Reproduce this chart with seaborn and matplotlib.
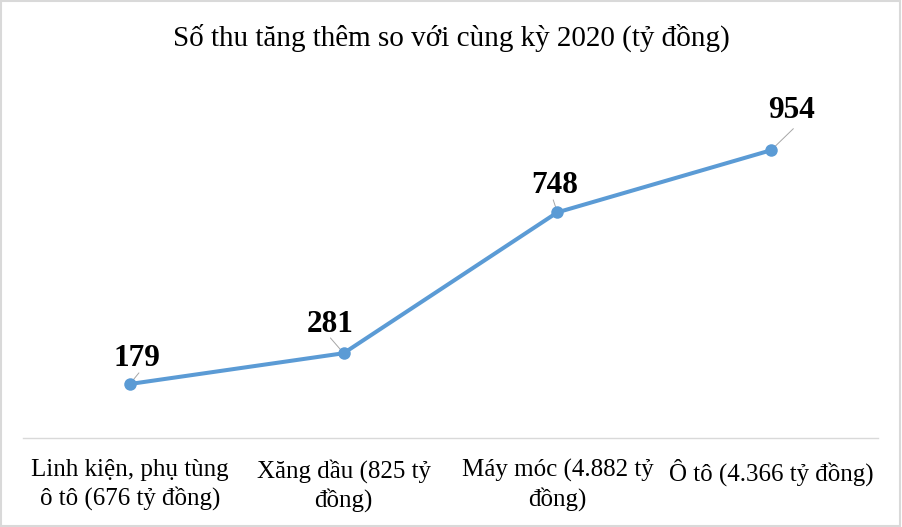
import numpy as np
import pandas as pd
import seaborn as sns
import matplotlib.pyplot as plt
from matplotlib.patches import Rectangle

categories = ["Linh kiện, phụ tùng\nô tô (676 tỷ đồng)", "Xăng dầu (825 tỷ\nđồng)",
              "Máy móc (4.882 tỷ\nđồng)", "Ô tô (4.366 tỷ đồng)"]
values = [179, 281, 748, 954]
title = "Số thu tăng thêm so với cùng kỳ 2020 (tỷ đồng)"

df = pd.DataFrame({"cat": categories, "val": values})

sns.set_style("white")
plt.rcParams['font.family'] = ['Liberation Serif', 'DejaVu Serif']
plt.rcParams['text.color'] = 'black'
plt.rcParams['xtick.color'] = 'black'

fig = plt.figure(figsize=(9.02, 5.27), dpi=100)
ax = fig.add_axes([23/902, 1-438/527, 855/902, 362/527])

sns.lineplot(data=df, x="cat", y="val", ax=ax, color="#5B9BD5", linewidth=2.9,
             marker="o", markersize=9, markeredgewidth=0, sort=False, zorder=3)

ax.set_xlim(-0.5, 3.5)
ax.set_ylim(0, 1200)
ax.set_yticks([])
ax.set_xlabel("")
ax.set_ylabel("")
for s in ["top", "right", "left"]:
    ax.spines[s].set_visible(False)
ax.spines["bottom"].set_color("#D9D9D9")
ax.spines["bottom"].set_linewidth(1)
ax.tick_params(axis="x", length=0, pad=15, labelsize=18, labelcolor="black")
for lab in ax.get_xticklabels():
    lab.set_linespacing(1.3)

# data labels and leader lines (offsets in points from each point)
label_off = [(5, 18.5), (-10, 20.5), (-2, 19), (15, 28.5)]
leader_off = [(6.5, 8), (-9.5, 11), (-3, 9), (16, 15.5)]
for i, v in enumerate(values):
    ax.annotate(str(v), xy=(i, v), xytext=label_off[i], textcoords="offset points",
                ha="center", va="center", fontsize=22.5, fontweight="bold",
                color="black")
    ax.annotate("", xy=(i, v), xytext=leader_off[i], textcoords="offset points",
                arrowprops=dict(arrowstyle="-", color="#A6A6A6", lw=0.7,
                                shrinkA=0, shrinkB=0), zorder=2)

fig.text(0.5, 1-38/527, title, ha="center", va="center", fontsize=21, color="black")

fig.patches.append(Rectangle((0.001, 0.001), 0.997, 0.997, transform=fig.transFigure,
                             fill=False, edgecolor="#D9D9D9", linewidth=1.5))

fig.savefig("out.png", dpi=100)
